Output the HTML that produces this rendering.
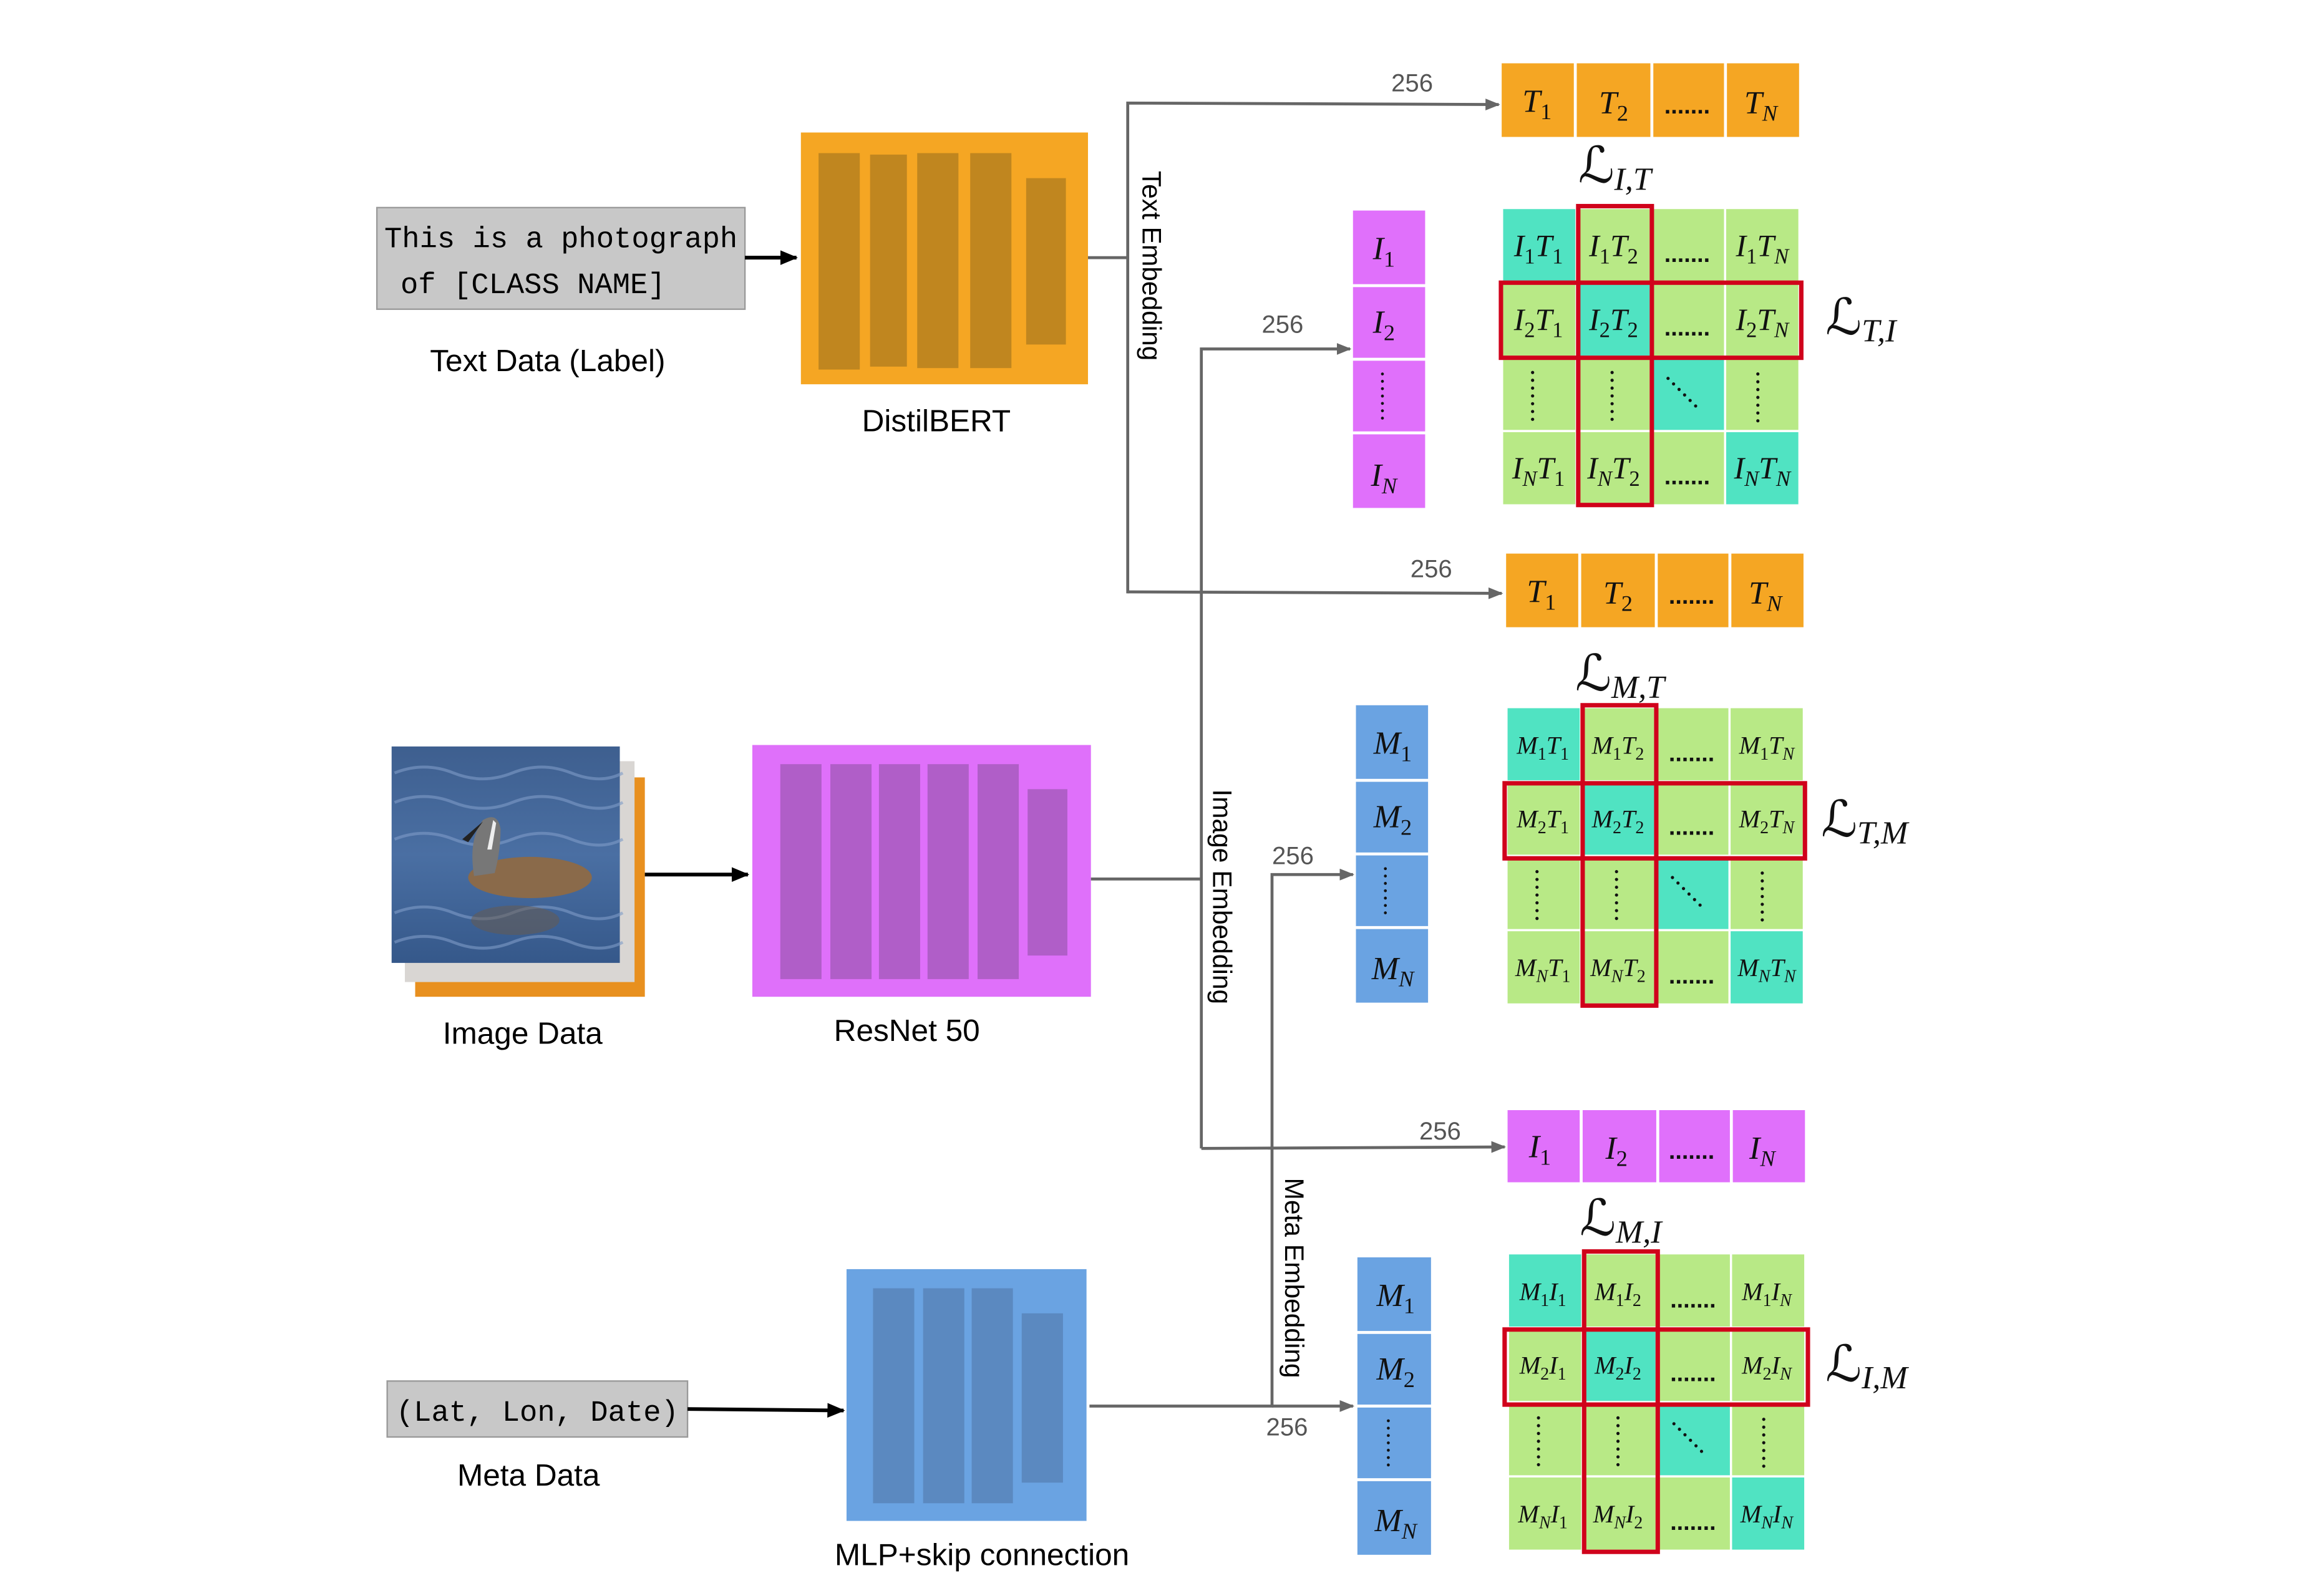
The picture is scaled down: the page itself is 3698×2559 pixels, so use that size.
<!DOCTYPE html>
<html><head><meta charset="utf-8"><style>
html,body{margin:0;padding:0;background:#fff}
svg{display:block}
.sans{font-family:"Liberation Sans",sans-serif}
.mono{font-family:"Liberation Mono",monospace}
.v{font-family:"Liberation Serif","DejaVu Serif",serif;font-style:italic;fill:#111}
.b{font-size:70%;font-style:normal}
.bi{font-size:70%}
.L{font-family:"DejaVu Serif","Liberation Serif",serif;font-size:34px;fill:#111}
.n{font-family:"Liberation Sans",sans-serif;font-size:17px;fill:#555}
.dots{font-family:"Liberation Sans",sans-serif;font-size:16px;font-weight:bold;fill:#111}
</style></head><body>
<svg width="3698" height="2559" viewBox="0 0 1567 1084" preserveAspectRatio="none" xmlns="http://www.w3.org/2000/svg">
<defs>
<marker id="ag" markerWidth="10" markerHeight="8" refX="9" refY="4" orient="auto" markerUnits="userSpaceOnUse"><path d="M0,0 L10,4 L0,8 z" fill="#666"/></marker>
<marker id="ab" markerWidth="12" markerHeight="10" refX="11" refY="5" orient="auto" markerUnits="userSpaceOnUse"><path d="M0,0 L12,5 L0,10 z" fill="#000"/></marker>
<linearGradient id="water" x1="0" y1="0" x2="0" y2="1"><stop offset="0" stop-color="#3e5f8f"/><stop offset="0.5" stop-color="#4a6fa3"/><stop offset="1" stop-color="#35588a"/></linearGradient>
</defs>

<rect x="256" y="141" width="250" height="69" fill="#c8c8c8" stroke="#9a9a9a" stroke-width="1"/>
<text class="mono" x="381" y="168" font-size="20" text-anchor="middle">This is a photograph</text>
<text class="mono" x="362" y="199" font-size="20" text-anchor="middle">of [CLASS NAME]</text>
<line x1="506" y1="175" x2="541" y2="175" stroke="#000" stroke-width="2.5" marker-end="url(#ab)"/>
<text class="sans" x="372" y="252" font-size="21" text-anchor="middle">Text Data (Label)</text>

<rect x="544" y="90" width="195" height="171" fill="#f5a623"/>
<g fill="#c0861f"><rect x="556" y="104" width="28" height="147"/><rect x="591" y="105" width="25" height="144"/><rect x="623" y="104" width="28" height="146"/><rect x="659" y="104" width="28" height="146"/><rect x="697" y="121" width="27" height="113"/></g>
<text class="sans" x="636" y="293" font-size="21" text-anchor="middle">DistilBERT</text>

<rect x="282" y="528" width="156" height="149" fill="#e8901f"/>
<rect x="275" y="517" width="156" height="150" fill="#d9d6d3"/>
<rect x="266" y="507" width="155" height="147" fill="url(#water)"/>
<g stroke="#7f9cc8" stroke-width="2" fill="none" opacity="0.6">
<path d="M268,525 q20,-8 40,0 t40,0 t40,0 t35,0"/><path d="M268,545 q20,-8 40,0 t40,0 t40,0 t35,0"/><path d="M268,570 q20,-8 40,0 t40,0 t40,0 t35,0"/><path d="M268,620 q20,-8 40,0 t40,0 t40,0 t35,0"/><path d="M268,640 q20,-8 40,0 t40,0 t40,0 t35,0"/></g>
<ellipse cx="360" cy="596" rx="42" ry="14" fill="#8a6a4a"/>
<path d="M322,595 q-4,-25 6,-38 q10,-6 12,6 q0,15 -4,30 z" fill="#777"/>
<path d="M328,558 l-14,12 l4,2 z" fill="#222"/>
<path d="M335,557 l-4,20 l3,0 l3,-18 z" fill="#eee"/>
<ellipse cx="350" cy="625" rx="30" ry="10" fill="#6a5a4a" opacity="0.5"/>
<line x1="438" y1="594" x2="508" y2="594" stroke="#000" stroke-width="2.5" marker-end="url(#ab)"/>
<text class="sans" x="355" y="709" font-size="21" text-anchor="middle">Image Data</text>

<rect x="511" y="506" width="230" height="171" fill="#df70fa"/>
<g fill="#b05ec8"><rect x="530" y="519" width="28" height="146"/><rect x="564" y="519" width="28" height="146"/><rect x="597" y="519" width="28" height="146"/><rect x="630" y="519" width="28" height="146"/><rect x="664" y="519" width="28" height="146"/><rect x="698" y="536" width="27" height="113"/></g>
<text class="sans" x="616" y="707" font-size="21" text-anchor="middle">ResNet 50</text>

<rect x="263" y="938" width="204" height="38" fill="#c8c8c8" stroke="#9a9a9a" stroke-width="1"/>
<text class="mono" x="365" y="965" font-size="20" text-anchor="middle">(Lat, Lon, Date)</text>
<line x1="467" y1="957" x2="573" y2="958" stroke="#000" stroke-width="2.5" marker-end="url(#ab)"/>
<text class="sans" x="359" y="1009" font-size="21" text-anchor="middle">Meta Data</text>
<rect x="575" y="862" width="163" height="171" fill="#6aa3e2"/>
<g fill="#5b89c0"><rect x="593" y="875" width="28" height="146"/><rect x="627" y="875" width="28" height="146"/><rect x="660" y="875" width="28" height="146"/><rect x="694" y="892" width="28" height="115"/></g>
<text class="sans" x="667" y="1063" font-size="21" text-anchor="middle">MLP+skip connection</text>

<g stroke="#666" stroke-width="2" fill="none">
<polyline points="739,175 766,175"/>
<polyline points="766,403 766,70 1018,71" marker-end="url(#ag)"/>
<polyline points="766,402 1020,403" marker-end="url(#ag)"/>
<polyline points="741,597 816,597"/>
<polyline points="816,780 816,237 917,237" marker-end="url(#ag)"/>
<polyline points="816,780 1022,779" marker-end="url(#ag)"/>
<polyline points="740,955 864,955 864,594 919,594" marker-end="url(#ag)"/>
<polyline points="864,955 919,955" marker-end="url(#ag)"/>
</g>
<text class="sans" font-size="18" transform="translate(776,116) rotate(90)">Text Embedding</text>
<text class="sans" font-size="18" transform="translate(824,536) rotate(90)">Image Embedding</text>
<text class="sans" font-size="18" transform="translate(873,800) rotate(90)">Meta Embedding</text>
<text class="n" x="945" y="62">256</text>
<text class="n" x="857" y="226">256</text>
<text class="n" x="958" y="392">256</text>
<text class="n" x="864" y="587">256</text>
<text class="n" x="964" y="774">256</text>
<text class="n" x="860" y="975">256</text>

<g fill="#f5a623"><rect x="1020" y="43" width="49" height="50"/><rect x="1071" y="43" width="50" height="50"/><rect x="1123" y="43" width="48" height="50"/><rect x="1173" y="43" width="49" height="50"/></g>
<g class="v" font-size="22" text-anchor="middle">
<text x="1044" y="76">T<tspan class="b" dy="5">1</tspan></text>
<text x="1096" y="77">T<tspan class="b" dy="5">2</tspan></text>
<text x="1196" y="77">T<tspan class="bi" dy="5">N</tspan></text></g>
<text class="dots" x="1146" y="77" text-anchor="middle">.......</text>

<g fill="#f5a623"><rect x="1023" y="376" width="49" height="50"/><rect x="1074" y="376" width="50" height="50"/><rect x="1126" y="376" width="48" height="50"/><rect x="1176" y="376" width="49" height="50"/></g>
<g class="v" font-size="22" text-anchor="middle">
<text x="1047" y="409">T<tspan class="b" dy="5">1</tspan></text>
<text x="1099" y="410">T<tspan class="b" dy="5">2</tspan></text>
<text x="1199" y="410">T<tspan class="bi" dy="5">N</tspan></text></g>
<text class="dots" x="1149" y="410" text-anchor="middle">.......</text>

<g fill="#e070fb"><rect x="1024" y="754" width="49" height="49"/><rect x="1075" y="754" width="50" height="49"/><rect x="1127" y="754" width="48" height="49"/><rect x="1177" y="754" width="49" height="49"/></g>
<g class="v" font-size="22" text-anchor="middle">
<text x="1046" y="786">I<tspan class="b" dy="5">1</tspan></text>
<text x="1098" y="787">I<tspan class="b" dy="5">2</tspan></text>
<text x="1197" y="787">I<tspan class="bi" dy="5">N</tspan></text></g>
<text class="dots" x="1149" y="787" text-anchor="middle">.......</text>

<g fill="#e070fb"><rect x="919" y="143" width="49" height="50"/><rect x="919" y="195" width="49" height="48"/><rect x="919" y="245" width="49" height="48"/><rect x="919" y="295" width="49" height="50"/></g>
<g class="v" font-size="22" text-anchor="middle">
<text x="940" y="176">I<tspan class="b" dy="5">1</tspan></text>
<text x="940" y="226">I<tspan class="b" dy="5">2</tspan></text>
<text x="940" y="330">I<tspan class="bi" dy="5">N</tspan></text></g>
<line x1="939" y1="254" x2="939" y2="286" stroke="#111" stroke-width="2" stroke-linecap="round" stroke-dasharray="0 5"/>

<g fill="#6aa3e2"><rect x="921" y="479" width="49" height="50"/><rect x="921" y="531" width="49" height="48"/><rect x="921" y="581" width="49" height="48"/><rect x="921" y="631" width="49" height="50"/></g>
<g class="v" font-size="22" text-anchor="middle">
<text x="946" y="512">M<tspan class="b" dy="5">1</tspan></text>
<text x="946" y="562">M<tspan class="b" dy="5">2</tspan></text>
<text x="946" y="665">M<tspan class="bi" dy="5">N</tspan></text></g>
<line x1="941" y1="590" x2="941" y2="622" stroke="#111" stroke-width="2" stroke-linecap="round" stroke-dasharray="0 5"/>

<g fill="#6aa3e2"><rect x="922" y="854" width="50" height="50"/><rect x="922" y="906" width="50" height="48"/><rect x="922" y="956" width="50" height="48"/><rect x="922" y="1006" width="50" height="50"/></g>
<g class="v" font-size="22" text-anchor="middle">
<text x="948" y="887">M<tspan class="b" dy="5">1</tspan></text>
<text x="948" y="937">M<tspan class="b" dy="5">2</tspan></text>
<text x="948" y="1040">M<tspan class="bi" dy="5">N</tspan></text></g>
<line x1="943" y1="965" x2="943" y2="997" stroke="#111" stroke-width="2" stroke-linecap="round" stroke-dasharray="0 5"/>

<g transform="translate(1021,142)">
<g fill="#b8e986">
<rect x="50.5" y="0" width="49" height="49"/><rect x="101" y="0" width="49" height="49"/><rect x="151.5" y="0" width="49" height="49"/>
<rect x="0" y="50.5" width="49" height="49"/><rect x="101" y="50.5" width="49" height="49"/><rect x="151.5" y="50.5" width="49" height="49"/>
<rect x="0" y="101" width="49" height="49"/><rect x="50.5" y="101" width="49" height="49"/><rect x="151.5" y="101" width="49" height="49"/>
<rect x="0" y="151.5" width="49" height="49"/><rect x="50.5" y="151.5" width="49" height="49"/><rect x="101" y="151.5" width="49" height="49"/></g>
<g fill="#50e3c2"><rect x="0" y="0" width="49" height="49"/><rect x="50.5" y="50.5" width="49" height="49"/><rect x="101" y="101" width="49" height="49"/><rect x="151.5" y="151.5" width="49" height="49"/></g>
<g class="v" font-size="21" text-anchor="middle">
<text x="24" y="32">I<tspan class="b" dy="5">1</tspan><tspan dy="-5">T</tspan><tspan class="b" dy="5">1</tspan></text>
<text x="75" y="32">I<tspan class="b" dy="5">1</tspan><tspan dy="-5">T</tspan><tspan class="b" dy="5">2</tspan></text>
<text x="176" y="32">I<tspan class="b" dy="5">1</tspan><tspan dy="-5">T</tspan><tspan class="bi" dy="5">N</tspan></text>
<text x="24" y="82">I<tspan class="b" dy="5">2</tspan><tspan dy="-5">T</tspan><tspan class="b" dy="5">1</tspan></text>
<text x="75" y="82">I<tspan class="b" dy="5">2</tspan><tspan dy="-5">T</tspan><tspan class="b" dy="5">2</tspan></text>
<text x="176" y="82">I<tspan class="b" dy="5">2</tspan><tspan dy="-5">T</tspan><tspan class="bi" dy="5">N</tspan></text>
<text x="24" y="183">I<tspan class="bi" dy="5">N</tspan><tspan dy="-5">T</tspan><tspan class="b" dy="5">1</tspan></text>
<text x="75" y="183">I<tspan class="bi" dy="5">N</tspan><tspan dy="-5">T</tspan><tspan class="b" dy="5">2</tspan></text>
<text x="176" y="183">I<tspan class="bi" dy="5">N</tspan><tspan dy="-5">T</tspan><tspan class="bi" dy="5">N</tspan></text></g>
<g class="dots" text-anchor="middle"><text x="125" y="36">.......</text><text x="125" y="86">.......</text><text x="125" y="187">.......</text></g>
<g stroke="#111" stroke-width="2.2" stroke-linecap="round" stroke-dasharray="0 5.3">
<line x1="20" y1="111" x2="20" y2="143"/><line x1="74" y1="111" x2="74" y2="143"/><line x1="173" y1="112" x2="173" y2="144"/><line x1="112" y1="115" x2="131" y2="134"/></g>
<g fill="none" stroke="#d0021b" stroke-width="3"><rect x="51" y="-2" width="50" height="203"/><rect x="-1.5" y="50" width="204" height="51"/></g>
</g>
<text class="L" x="1072" y="124">ℒ<tspan class="v" font-size="22" dy="5">I,T</tspan></text>
<text class="L" x="1240" y="227">ℒ<tspan class="v" font-size="22" dy="5">T,I</tspan></text>

<g transform="translate(1024,481)">
<g fill="#b8e986">
<rect x="50.5" y="0" width="49" height="49"/><rect x="101" y="0" width="49" height="49"/><rect x="151.5" y="0" width="49" height="49"/>
<rect x="0" y="50.5" width="49" height="49"/><rect x="101" y="50.5" width="49" height="49"/><rect x="151.5" y="50.5" width="49" height="49"/>
<rect x="0" y="101" width="49" height="49"/><rect x="50.5" y="101" width="49" height="49"/><rect x="151.5" y="101" width="49" height="49"/>
<rect x="0" y="151.5" width="49" height="49"/><rect x="50.5" y="151.5" width="49" height="49"/><rect x="101" y="151.5" width="49" height="49"/></g>
<g fill="#50e3c2"><rect x="0" y="0" width="49" height="49"/><rect x="50.5" y="50.5" width="49" height="49"/><rect x="101" y="101" width="49" height="49"/><rect x="151.5" y="151.5" width="49" height="49"/></g>
<g class="v" font-size="17" text-anchor="middle">
<text x="24" y="31">M<tspan class="b" dy="4">1</tspan><tspan dy="-4">T</tspan><tspan class="b" dy="4">1</tspan></text>
<text x="75" y="31">M<tspan class="b" dy="4">1</tspan><tspan dy="-4">T</tspan><tspan class="b" dy="4">2</tspan></text>
<text x="176" y="31">M<tspan class="b" dy="4">1</tspan><tspan dy="-4">T</tspan><tspan class="bi" dy="4">N</tspan></text>
<text x="24" y="81">M<tspan class="b" dy="4">2</tspan><tspan dy="-4">T</tspan><tspan class="b" dy="4">1</tspan></text>
<text x="75" y="81">M<tspan class="b" dy="4">2</tspan><tspan dy="-4">T</tspan><tspan class="b" dy="4">2</tspan></text>
<text x="176" y="81">M<tspan class="b" dy="4">2</tspan><tspan dy="-4">T</tspan><tspan class="bi" dy="4">N</tspan></text>
<text x="24" y="182">M<tspan class="bi" dy="4">N</tspan><tspan dy="-4">T</tspan><tspan class="b" dy="4">1</tspan></text>
<text x="75" y="182">M<tspan class="bi" dy="4">N</tspan><tspan dy="-4">T</tspan><tspan class="b" dy="4">2</tspan></text>
<text x="176" y="182">M<tspan class="bi" dy="4">N</tspan><tspan dy="-4">T</tspan><tspan class="bi" dy="4">N</tspan></text></g>
<g class="dots" text-anchor="middle"><text x="125" y="36">.......</text><text x="125" y="86">.......</text><text x="125" y="187">.......</text></g>
<g stroke="#111" stroke-width="2.2" stroke-linecap="round" stroke-dasharray="0 5.3">
<line x1="20" y1="111" x2="20" y2="143"/><line x1="74" y1="111" x2="74" y2="143"/><line x1="173" y1="112" x2="173" y2="144"/><line x1="112" y1="115" x2="131" y2="134"/></g>
<g fill="none" stroke="#d0021b" stroke-width="3"><rect x="51" y="-2" width="50" height="204"/><rect x="-2" y="51" width="204" height="51"/></g>
</g>
<text class="L" x="1070" y="469">ℒ<tspan class="v" font-size="22" dy="5">M,T</tspan></text>
<text class="L" x="1237" y="568">ℒ<tspan class="v" font-size="22" dy="5">T,M</tspan></text>

<g transform="translate(1025,852)">
<g fill="#b8e986">
<rect x="50.5" y="0" width="49" height="49"/><rect x="101" y="0" width="49" height="49"/><rect x="151.5" y="0" width="49" height="49"/>
<rect x="0" y="50.5" width="49" height="49"/><rect x="101" y="50.5" width="49" height="49"/><rect x="151.5" y="50.5" width="49" height="49"/>
<rect x="0" y="101" width="49" height="49"/><rect x="50.5" y="101" width="49" height="49"/><rect x="151.5" y="101" width="49" height="49"/>
<rect x="0" y="151.5" width="49" height="49"/><rect x="50.5" y="151.5" width="49" height="49"/><rect x="101" y="151.5" width="49" height="49"/></g>
<g fill="#50e3c2"><rect x="0" y="0" width="49" height="49"/><rect x="50.5" y="50.5" width="49" height="49"/><rect x="101" y="101" width="49" height="49"/><rect x="151.5" y="151.5" width="49" height="49"/></g>
<g class="v" font-size="17" text-anchor="middle">
<text x="23" y="31">M<tspan class="b" dy="4">1</tspan><tspan dy="-4">I</tspan><tspan class="b" dy="4">1</tspan></text>
<text x="74" y="31">M<tspan class="b" dy="4">1</tspan><tspan dy="-4">I</tspan><tspan class="b" dy="4">2</tspan></text>
<text x="175" y="31">M<tspan class="b" dy="4">1</tspan><tspan dy="-4">I</tspan><tspan class="bi" dy="4">N</tspan></text>
<text x="23" y="81">M<tspan class="b" dy="4">2</tspan><tspan dy="-4">I</tspan><tspan class="b" dy="4">1</tspan></text>
<text x="74" y="81">M<tspan class="b" dy="4">2</tspan><tspan dy="-4">I</tspan><tspan class="b" dy="4">2</tspan></text>
<text x="175" y="81">M<tspan class="b" dy="4">2</tspan><tspan dy="-4">I</tspan><tspan class="bi" dy="4">N</tspan></text>
<text x="23" y="182">M<tspan class="bi" dy="4">N</tspan><tspan dy="-4">I</tspan><tspan class="b" dy="4">1</tspan></text>
<text x="74" y="182">M<tspan class="bi" dy="4">N</tspan><tspan dy="-4">I</tspan><tspan class="b" dy="4">2</tspan></text>
<text x="175" y="182">M<tspan class="bi" dy="4">N</tspan><tspan dy="-4">I</tspan><tspan class="bi" dy="4">N</tspan></text></g>
<g class="dots" text-anchor="middle"><text x="125" y="36">.......</text><text x="125" y="86">.......</text><text x="125" y="187">.......</text></g>
<g stroke="#111" stroke-width="2.2" stroke-linecap="round" stroke-dasharray="0 5.3">
<line x1="20" y1="111" x2="20" y2="143"/><line x1="74" y1="111" x2="74" y2="143"/><line x1="173" y1="112" x2="173" y2="144"/><line x1="112" y1="115" x2="131" y2="134"/></g>
<g fill="none" stroke="#d0021b" stroke-width="3"><rect x="51" y="-2" width="50" height="204"/><rect x="-3" y="51" width="206" height="51"/></g>
</g>
<text class="L" x="1073" y="839">ℒ<tspan class="v" font-size="22" dy="5">M,I</tspan></text>
<text class="L" x="1240" y="938">ℒ<tspan class="v" font-size="22" dy="5">I,M</tspan></text>
</svg>
</body></html>
